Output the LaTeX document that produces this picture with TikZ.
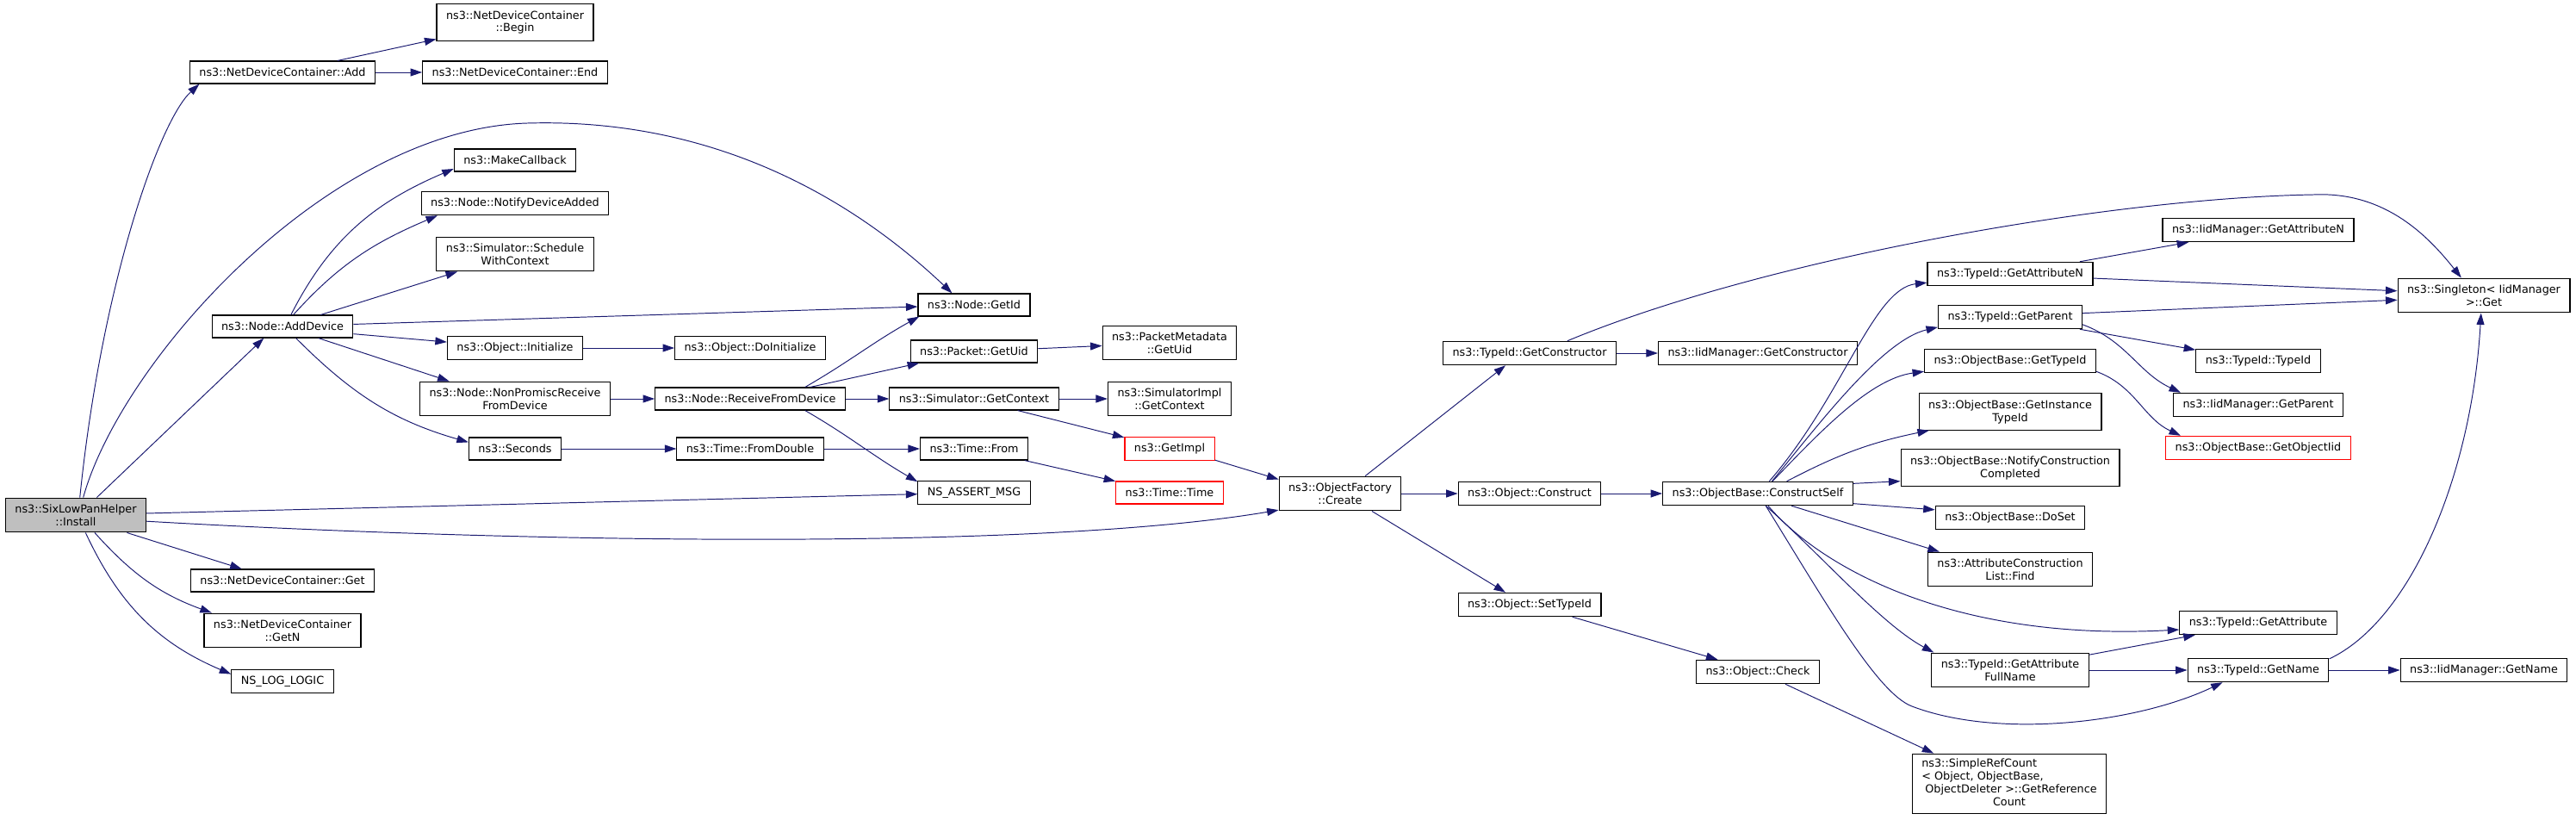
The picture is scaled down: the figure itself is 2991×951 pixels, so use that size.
\documentclass[tikz,border=0pt]{standalone}
\usepackage{fontspec}
\setmainfont{DejaVu Sans}
\usetikzlibrary{arrows.meta}
\definecolor{callblue}{RGB}{25,25,112}
\definecolor{rootgray}{RGB}{191,191,191}
\tikzset{
  fn/.style={draw=black,line width=0.65pt,fill=white,align=center,inner xsep=0.22cm,inner ysep=0.15cm,minimum height=0.52cm,font=\fontsize{7.27}{8.5}\selectfont},
  fnred/.style={fn,draw=red},
  fnroot/.style={fn,fill=rootgray},
  call/.style={draw=callblue,line width=0.55pt,-{Triangle[length=0.27cm,width=0.18cm]}}
}

\begin{document}
\begin{tikzpicture}[x=0.02cm,y=-0.02cm]
  \useasboundingbox (0,0) rectangle (2991,951);

  \node[fnroot] (install) at (88,598) {ns3::SixLowPanHelper\\::Install};
  \node[fn] (add) at (328,84) {ns3::NetDeviceContainer::Add};
  \node[fn] (begin) at (598,26) {ns3::NetDeviceContainer\\::Begin};
  \node[fn] (end) at (598,84) {ns3::NetDeviceContainer::End};
  \node[fn] (makecb) at (598,186) {ns3::MakeCallback};
  \node[fn] (notify) at (598,236) {ns3::Node::NotifyDeviceAdded};
  \node[fn] (schedule) at (598,295) {ns3::Simulator::Schedule\\WithContext};
  \node[fn] (adddev) at (328,379) {ns3::Node::AddDevice};
  \node[fn] (getid) at (1131,354) {ns3::Node::GetId};
  \node[fn] (init) at (598,404) {ns3::Object::Initialize};
  \node[fn] (doinit) at (871,404) {ns3::Object::DoInitialize};
  \node[fn] (nonprom) at (598,463) {ns3::Node::NonPromiscReceive\\FromDevice};
  \node[fn] (recv) at (871,463) {ns3::Node::ReceiveFromDevice};
  \node[fn] (pktuid) at (1131,408) {ns3::Packet::GetUid};
  \node[fn] (pktmeta) at (1358,398) {ns3::PacketMetadata\\::GetUid};
  \node[fn] (simctx) at (1131,463) {ns3::Simulator::GetContext};
  \node[fn] (simimpl) at (1358,463) {ns3::SimulatorImpl\\::GetContext};
  \node[fn] (seconds) at (598,521) {ns3::Seconds};
  \node[fn] (fromdbl) at (871,521) {ns3::Time::FromDouble};
  \node[fn] (timefrom) at (1131,521) {ns3::Time::From};
  \node[fnred] (getimpl) at (1358,521) {ns3::GetImpl};
  \node[fn] (assert) at (1131,572) {NS\_ASSERT\_MSG};
  \node[fnred] (timetime) at (1358,572) {ns3::Time::Time};
  \node[fn] (create) at (1556,573) {ns3::ObjectFactory\\::Create};
  \node[fn] (ndcget) at (328,674) {ns3::NetDeviceContainer::Get};
  \node[fn] (ndcgetn) at (328,732) {ns3::NetDeviceContainer\\::GetN};
  \node[fn] (nslog) at (328,791) {NS\_LOG\_LOGIC};
  \node[fn] (getctor) at (1776,410) {ns3::TypeId::GetConstructor};
  \node[fn] (iidctor) at (2041,410) {ns3::IidManager::GetConstructor};
  \node[fn] (construct) at (1776,573) {ns3::Object::Construct};
  \node[fn] (settypeid) at (1776,702) {ns3::Object::SetTypeId};
  \node[fn] (check) at (2041,780) {ns3::Object::Check};
  \node[fn,inner ysep=0.1cm] (refcount) at (2333,910) {\begin{tabular}{@{}l@{}}ns3::SimpleRefCount\\< Object, ObjectBase,\\\ ObjectDeleter >::GetReference\\\multicolumn{1}{@{}c@{}}{Count}\end{tabular}};
  \node[fn] (cself) at (2041,573) {ns3::ObjectBase::ConstructSelf};
  \node[fn] (getattrn) at (2334,318) {ns3::TypeId::GetAttributeN};
  \node[fn] (iidattrn) at (2622,267) {ns3::IidManager::GetAttributeN};
  \node[fn] (singleton) at (2884,343) {ns3::Singleton< IidManager\\>::Get};
  \node[fn] (getparent) at (2334,368) {ns3::TypeId::GetParent};
  \node[fn] (typeid) at (2622,419) {ns3::TypeId::TypeId};
  \node[fn] (gettypeid) at (2334,419) {ns3::ObjectBase::GetTypeId};
  \node[fn] (iidparent) at (2622,470) {ns3::IidManager::GetParent};
  \node[fn] (getinst) at (2334,478) {ns3::ObjectBase::GetInstance\\TypeId};
  \node[fnred] (getobjiid) at (2622,520) {ns3::ObjectBase::GetObjectIid};
  \node[fn] (notifycons) at (2334,543) {ns3::ObjectBase::NotifyConstruction\\Completed};
  \node[fn] (doset) at (2334,601) {ns3::ObjectBase::DoSet};
  \node[fn] (attrfind) at (2334,661) {ns3::AttributeConstruction\\List::Find};
  \node[fn] (getattr) at (2622,723) {ns3::TypeId::GetAttribute};
  \node[fn] (getattrfull) at (2334,778) {ns3::TypeId::GetAttribute\\FullName};
  \node[fn] (getname) at (2622,778) {ns3::TypeId::GetName};
  \node[fn] (iidname) at (2884,778) {ns3::IidManager::GetName};

  \draw[call] (install.77) .. controls (118,330) and (185,140) .. (add.-172);
  \draw[call] (install.67) .. controls (140,420) and (380,150) .. (612,143) .. controls (850,136) and (1010,250) .. (getid.152);
  \draw[call] (install.40) -- (adddev.-148);
  \draw[call] (install) -- (assert);
  \draw[call] (install.-5) .. controls (600,630) and (1200,640) .. (create.-165);
  \draw[call] (install.-19) -- (ndcget.164);
  \draw[call] (install.-43) to[out=-48,in=160] (ndcgetn.166);
  \draw[call] (install.-61) to[out=-65,in=157] (nslog.172);
  \draw[call] (add.12) -- (begin.-168);
  \draw[call] (add) -- (end);
  \draw[call] (adddev.54) to[out=63,in=203] (makecb.-172);
  \draw[call] (adddev.47) to[out=48,in=203] (notify.-171);
  \draw[call] (adddev.17) -- (schedule.-163);
  \draw[call] (adddev) -- (getid);
  \draw[call] (adddev.-6) -- (init.175);
  \draw[call] (adddev.-18) -- (nonprom.165);
  \draw[call] (adddev.-41) to[out=-45,in=164] (seconds.172);
  \draw[call] (init) -- (doinit);
  \draw[call] (nonprom) -- (recv);
  \draw[call] (recv.12) to[out=30,in=209] (getid.-168);
  \draw[call] (recv.11) -- (pktuid.-168);
  \draw[call] (recv) -- (simctx);
  \draw[call] (recv.-12) to[out=-30,in=150] (assert.169);
  \draw[call] (pktuid) -- (pktmeta);
  \draw[call] (simctx) -- (simimpl);
  \draw[call] (simctx.-15) -- (getimpl.166);
  \draw[call] (seconds) -- (fromdbl);
  \draw[call] (fromdbl) -- (timefrom);
  \draw[call] (timefrom.-13) -- (timetime.168);
  \draw[call] (getimpl.-14) -- (create.167);
  \draw[call] (create.35) -- (getctor.-153);
  \draw[call] (create) -- (construct);
  \draw[call] (create.-29) -- (settypeid.153);
  \draw[call] (getctor) -- (iidctor);
  \draw[call] (getctor.18) .. controls (2050,300) and (2450,230) .. (2686,226) .. controls (2770,222) and (2820,275) .. (singleton.142);
  \draw[call] (construct) -- (cself);
  \draw[call] (settypeid.-16) -- (check.163);
  \draw[call] (check.-24) -- (refcount.158);
  \draw[call] (cself.47) .. controls (2140,460) and (2175,335) .. (getattrn.-174);
  \draw[call] (cself.41) .. controls (2110,495) and (2185,395) .. (getparent.-172);
  \draw[call] (cself.40) .. controls (2110,505) and (2170,440) .. (gettypeid.-173);
  \draw[call] (cself.23) to[bend left=8] (getinst.-167);
  \draw[call] (cself.6) -- (notifycons.-173);
  \draw[call] (cself.-6) -- (doset.174);
  \draw[call] (cself.-20) -- (attrfind.166);
  \draw[call] (cself.-50) .. controls (2115,660) and (2270,745) .. (getattr.-175);
  \draw[call] (cself.-57) .. controls (2115,645) and (2185,725) .. (getattrfull.167);
  \draw[call] (cself.-57) .. controls (2120,700) and (2180,805) .. (2220,820) .. controls (2320,858) and (2480,840) .. (getname.-161);
  \draw[call] (getattrn.10) -- (iidattrn.-170);
  \draw[call] (getattrn.-3) -- (singleton.177);
  \draw[call] (getparent.3) -- (singleton.-177);
  \draw[call] (getparent.-10) -- (typeid.170);
  \draw[call] (getparent.-6) to[out=-20,in=155] (iidparent.171);
  \draw[call] (gettypeid.-7) to[out=-20,in=155] (getobjiid.171);
  \draw[call] (getattrfull.11) -- (getattr.-169);
  \draw[call] (getattrfull) -- (getname);
  \draw[call] (getname) -- (iidname);
  \draw[call] (getname.9) .. controls (2800,720) and (2870,550) .. (singleton.-99);
\end{tikzpicture}
\end{document}
